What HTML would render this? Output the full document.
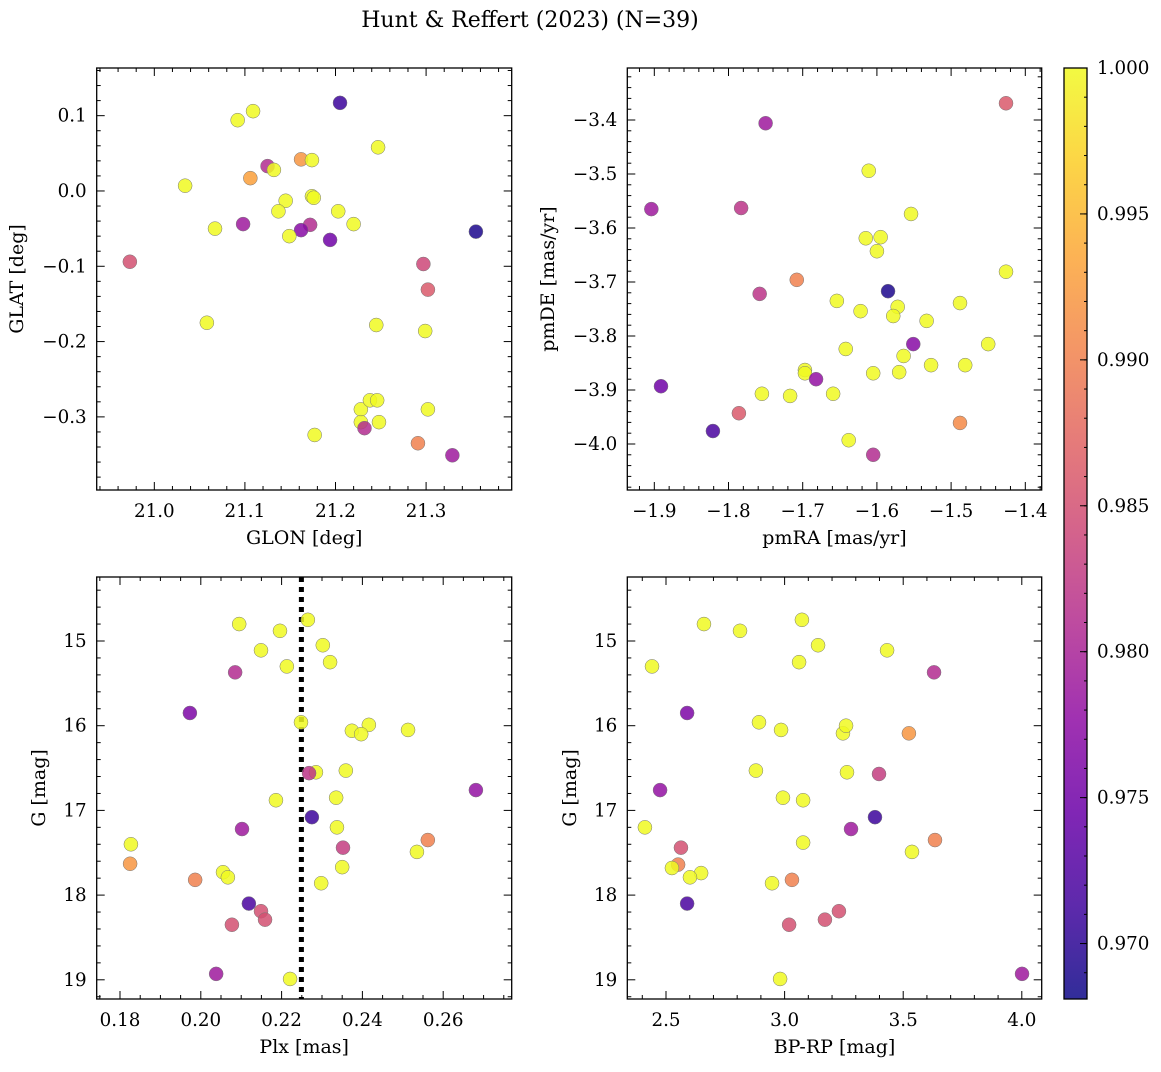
<!DOCTYPE html>
<html><head><meta charset="utf-8"><style>
body{margin:0;background:#fff;}
svg text{font-family:"DejaVu Serif","Liberation Serif",serif;fill:#000;}
</style></head><body>
<svg id="fig" width="1161" height="1067" viewBox="0 0 1161 1067" xmlns="http://www.w3.org/2000/svg">
<defs><linearGradient id="plasmaGrad" x1="0" y1="1" x2="0" y2="0"></linearGradient></defs>
<text x="530" y="27" font-size="22" text-anchor="middle">Hunt &amp; Reffert (2023) (N=39)</text>
</svg>
<script>
// Panel 1: GLON / GLAT
const glon1=[21.109,21.092,21.205,21.247,21.162,21.174,21.125,21.132,21.106,21.034,21.174,21.176,21.145,21.137,21.203,21.098,21.067,21.172,21.220,21.162,21.149,21.194,21.355,20.973,21.297,21.302,21.058,21.245,21.299,21.228,21.238,21.246,21.228,21.248,21.302,21.177,21.232,21.291,21.329];
const glat1=[0.106,0.094,0.117,0.058,0.042,0.041,0.033,0.028,0.017,0.007,-0.007,-0.009,-0.013,-0.027,-0.027,-0.044,-0.050,-0.045,-0.044,-0.052,-0.060,-0.065,-0.054,-0.094,-0.097,-0.131,-0.175,-0.178,-0.186,-0.290,-0.278,-0.278,-0.307,-0.307,-0.290,-0.324,-0.315,-0.335,-0.351];
const prob1=[1,1,0.971,1,0.992,1,0.981,1,0.993,1,1,1,1,1,1,0.979,1,0.981,1,0.977,1,0.975,0.969,0.985,0.984,0.986,1,1,1,1,1,1,1,1,1,1,0.981,0.990,0.979];
// Panel 2: pmRA / pmDE
const pmra2=[-1.426,-1.750,-1.611,-1.904,-1.783,-1.554,-1.615,-1.595,-1.600,-1.426,-1.708,-1.758,-1.585,-1.654,-1.572,-1.488,-1.622,-1.578,-1.533,-1.551,-1.642,-1.450,-1.564,-1.527,-1.481,-1.605,-1.570,-1.697,-1.697,-1.682,-1.891,-1.755,-1.717,-1.659,-1.786,-1.488,-1.821,-1.638,-1.605];
const pmde2=[-3.369,-3.406,-3.494,-3.565,-3.563,-3.574,-3.619,-3.617,-3.643,-3.681,-3.696,-3.722,-3.717,-3.735,-3.746,-3.739,-3.754,-3.763,-3.772,-3.815,-3.824,-3.815,-3.837,-3.854,-3.854,-3.869,-3.867,-3.863,-3.869,-3.880,-3.893,-3.907,-3.911,-3.907,-3.943,-3.961,-3.976,-3.993,-4.020];
const prob2=[0.986,0.979,1,0.979,0.982,1,1,1,1,1,0.990,0.982,0.969,1,1,1,1,1,1,0.977,1,1,1,1,1,1,1,1,1,0.978,0.975,1,1,1,0.986,0.991,0.972,1,0.981];
// Panel 3: Plx / G
const plx3=[0.2265,0.2095,0.2196,0.2302,0.2149,0.2213,0.2320,0.2085,0.1973,0.2248,0.2416,0.2374,0.2397,0.2513,0.2681,0.2285,0.2359,0.2268,0.2186,0.2335,0.2275,0.2102,0.2337,0.2352,0.2562,0.2535,0.1827,0.2350,0.1825,0.2055,0.2067,0.1986,0.2298,0.2119,0.2149,0.2159,0.2077,0.2038,0.2221];
const g3=[14.75,14.80,14.88,15.05,15.11,15.30,15.25,15.37,15.85,15.96,15.99,16.06,16.10,16.05,16.76,16.55,16.53,16.56,16.88,16.85,17.08,17.22,17.20,17.44,17.35,17.49,17.40,17.67,17.63,17.73,17.79,17.82,17.86,18.10,18.19,18.29,18.35,18.93,18.99];
const prob3=[1,1,1,1,1,1,1,0.981,0.976,1,1,1,1,1,0.978,1,1,0.982,1,1,0.971,0.979,1,0.983,0.990,1,1,1,0.992,1,1,0.990,1,0.972,0.985,0.985,0.985,0.979,1];
const plxLine=0.2249;
// Panel 4: BP-RP / G
const bprp4=[3.073,2.660,2.812,3.141,3.432,2.441,3.061,3.630,2.589,2.892,2.985,3.246,3.259,3.524,2.879,3.263,3.398,2.475,2.993,3.078,3.381,3.078,3.280,3.537,3.634,2.411,2.563,2.551,2.525,2.648,2.601,2.947,3.031,2.589,3.229,3.170,3.019,4.001,2.981];
const g4=[14.75,14.80,14.88,15.05,15.11,15.30,15.25,15.37,15.85,15.96,16.05,16.09,16.00,16.09,16.53,16.55,16.57,16.76,16.85,16.88,17.08,17.38,17.22,17.49,17.35,17.20,17.44,17.64,17.68,17.74,17.79,17.86,17.82,18.10,18.19,18.29,18.35,18.93,18.99];
const prob4=[1,1,1,1,1,1,1,0.981,0.976,1,1,1,1,0.992,1,1,0.983,0.978,1,1,0.971,1,0.979,1,0.990,1,0.985,0.990,1,1,1,1,0.990,0.972,0.985,0.985,0.985,0.979,1];
// Colorbar
const cbTicks=[0.970,0.975,0.980,0.985,0.990,0.995,1.000];
const cbMin=0.9681, cbMax=1.0;

const NS="http://www.w3.org/2000/svg";
const svg=document.getElementById('fig');
function mk(tag,attrs,parent){const e=document.createElementNS(NS,tag);for(const k in attrs)e.setAttribute(k,attrs[k]);(parent||svg).appendChild(e);return e;}
const stops=[[0,[13,8,135]],[0.1,[65,4,157]],[0.2,[106,0,168]],[0.3,[143,13,164]],[0.4,[177,42,144]],[0.5,[204,71,120]],[0.6,[225,100,98]],[0.7,[242,132,75]],[0.8,[252,166,54]],[0.9,[252,206,37]],[1,[240,249,33]]];
function plasma(t){t=Math.max(0,Math.min(1,t));for(let i=1;i<stops.length;i++){if(t<=stops[i][0]){const a=stops[i-1],b=stops[i];const f=(t-a[0])/(b[0]-a[0]);const c=a[1].map((v,j)=>Math.round(v+(b[1][j]-v)*f));return `rgb(${c[0]},${c[1]},${c[2]})`;}}return 'rgb(240,249,33)';}
const grad=document.getElementById('plasmaGrad');
stops.forEach(s=>{mk('stop',{offset:s[0],'stop-color':plasma(s[0]),'stop-opacity':0.85},grad);});

function fmt(v,d){const s=Math.abs(v).toFixed(d);return (v<0-1e-12?'\u2212':'')+s;}
const TF=18.3, LF=19;
function panel(o){
  const g=mk('g',{});
  
  
  const sx=v=>o.L+(v-o.x0)/(o.x1-o.x0)*(o.R-o.L);
  const sy=o.yinv?(v=>o.T+(v-o.y0)/(o.y1-o.y0)*(o.B-o.T)):(v=>o.B-(v-o.y0)/(o.y1-o.y0)*(o.B-o.T));
  const tg=mk('g',{stroke:'#000','stroke-width':1},g);
  
  
  const xa=Math.min(o.x0,o.x1),xb=Math.max(o.x0,o.x1);
  for(let k=Math.ceil(xa/o.xmin-1e-6);k*o.xmin<=xb+1e-9;k++){const v=k*o.xmin;const isMaj=Math.abs(v/o.xmaj-Math.round(v/o.xmaj))<1e-6;const len=isMaj?8:4;const x=sx(v);
    mk('line',{x1:x,x2:x,y1:o.B,y2:o.B-len},tg);mk('line',{x1:x,x2:x,y1:o.T,y2:o.T+len},tg);
    if(isMaj){const t=mk('text',{x:x,y:o.B+27,'font-size':TF,'text-anchor':'middle'},g);t.textContent=fmt(v,o.xd);
      
      }}
  const ya=Math.min(o.y0,o.y1),yb=Math.max(o.y0,o.y1);
  for(let k=Math.ceil(ya/o.ymin-1e-6);k*o.ymin<=yb+1e-9;k++){const v=k*o.ymin;const isMaj=Math.abs(v/o.ymaj-Math.round(v/o.ymaj))<1e-6;const len=isMaj?8:4;const y=sy(v);
    mk('line',{y1:y,y2:y,x1:o.L,x2:o.L+len},tg);mk('line',{y1:y,y2:y,x1:o.R,x2:o.R-len},tg);
    if(isMaj){const t=mk('text',{x:o.L-10,y:y+6,'font-size':TF,'text-anchor':'end'},g);t.textContent=fmt(v,o.yd);
      
      }}
  if(o.vline!==undefined){const l=mk('line',{x1:sx(o.vline),x2:sx(o.vline),y1:o.T,y2:o.B,stroke:'#000','stroke-width':5,'stroke-dasharray':'5,5'},g);
    
    }
  const pg=mk('g',{},g);
  
  
  for(let i=0;i<o.xs.length;i++){const c=mk('circle',{cx:sx(o.xs[i]),cy:sy(o.ys[i]),r:7,fill:plasma((o.ps[i]-cbMin)/(cbMax-cbMin)),'fill-opacity':0.85,stroke:'#777','stroke-width':0.5},pg);
    
    }
  const fr=mk('rect',{x:o.L,y:o.T,width:o.R-o.L,height:o.B-o.T,fill:'none',stroke:'#000','stroke-width':1.3},g);
  
  
  const xl=mk('text',{x:(o.L+o.R)/2,y:o.B+54,'font-size':LF,'text-anchor':'middle'},g);xl.textContent=o.xlab;
  
  
  const yl=mk('text',{x:0,y:0,'font-size':LF,'text-anchor':'middle',transform:`translate(${o.ylx},${(o.T+o.B)/2}) rotate(-90)`},g);yl.textContent=o.ylab;
  
  
}
panel({name:'glon-glat-panel',L:96.7,R:511.7,T:68,B:490,x0:20.9364,x1:21.3945,y0:-0.3971,y1:0.1633,xmaj:0.1,xmin:0.02,ymaj:0.1,ymin:0.02,xd:1,yd:1,xs:glon1,ys:glat1,ps:prob1,xlab:'GLON [deg]',ylab:'GLAT [deg]',ylx:23});
panel({name:'pm-panel',L:627.3,R:1041.7,T:68,B:490,x0:-1.9364,x1:-1.3779,y0:-4.0852,y1:-3.3037,xmaj:0.1,xmin:0.02,ymaj:0.1,ymin:0.02,xd:1,yd:1,xs:pmra2,ys:pmde2,ps:prob2,xlab:'pmRA [mas/yr]',ylab:'pmDE [mas/yr]',ylx:554});
panel({name:'plx-g-panel',L:96.7,R:511.7,T:577,B:999,x0:0.17423,x1:0.27696,y0:14.2444,y1:19.2267,yinv:true,xmaj:0.02,xmin:0.005,ymaj:1,ymin:0.2,xd:2,yd:0,xs:plx3,ys:g3,ps:prob3,xlab:'Plx [mas]',ylab:'G [mag]',ylx:45,vline:plxLine});
panel({name:'color-g-panel',L:627.3,R:1041.7,T:577,B:999,x0:2.3368,x1:4.0839,y0:14.2444,y1:19.2267,yinv:true,xmaj:0.5,xmin:0.1,ymaj:1,ymin:0.2,xd:1,yd:0,xs:bprp4,ys:g4,ps:prob4,xlab:'BP-RP [mag]',ylab:'G [mag]',ylx:576});

const cb=mk('g',{});


const cT=68,cB=999,cL=1064,cR=1087;
const cy=v=>cB-(v-cbMin)/(cbMax-cbMin)*(cB-cT);
mk('rect',{x:cL,y:cT,width:cR-cL,height:cB-cT,fill:'url(#plasmaGrad)'},cb);
for(let k=Math.ceil(cbMin/0.001-1e-6);k*0.001<=cbMax+1e-9;k++){const v=k*0.001;const y=cy(v);mk('line',{x1:cR,x2:cR-3,y1:y,y2:y,stroke:'#000'},cb);}
cbTicks.forEach(v=>{const y=cy(v);mk('line',{x1:cR,x2:cR-7,y1:y,y2:y,stroke:'#000'},cb);
  const t=mk('text',{x:cR+10,y:y+6,'font-size':TF},cb);t.textContent=v.toFixed(3);
  
  });
mk('rect',{x:cL,y:cT,width:cR-cL,height:cB-cT,fill:'none',stroke:'#000','stroke-width':1.3},cb);
</script>
</body></html>
